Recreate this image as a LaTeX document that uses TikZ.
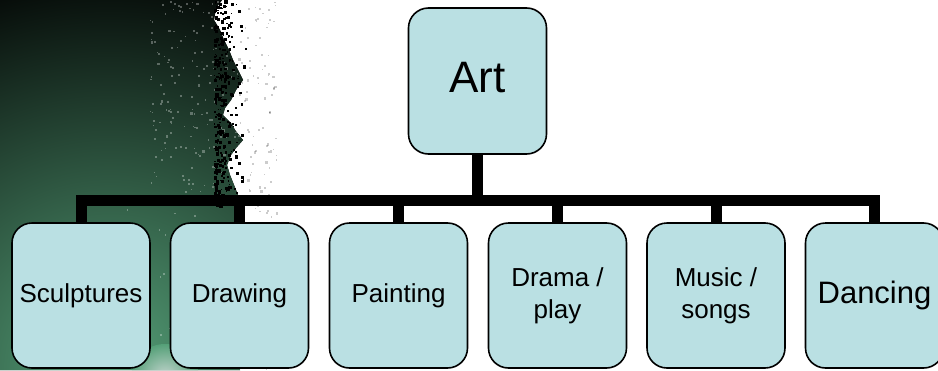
\documentclass[tikz,border=0pt]{standalone}
\usepackage{fontspec}
\setmainfont{Liberation Sans}
\definecolor{boxfill}{RGB}{186,224,227}
\definecolor{glow}{RGB}{85,160,120}
\definecolor{paleglow}{RGB}{200,215,210}
\begin{document}
\begin{tikzpicture}[x=1pt,y=-1pt,
  box/.style={draw=black, line width=1.6pt, fill=boxfill, rounded corners=20pt,
    minimum width=138pt, minimum height=145pt, inner sep=0pt, align=center,
    font=\fontsize{26}{32}\selectfont},
  conn/.style={line width=11pt, line join=miter, draw=black}]
\useasboundingbox (0,0) rectangle (938,370);
\fill[white] (0,0) rectangle (938,370);
% dark splash background
\fill[black] (0,0) -- (222,0) -- (216,8) -- (214,20) -- (220,30) -- (224,40) -- (229,50) -- (233,60) -- (238,70) -- (243,80) -- (236,90) -- (231,100) -- (225,108) -- (223,115) -- (231,123) -- (235,130) -- (243,140) -- (236,148) -- (231,155) -- (227,165) -- (230,175) -- (234,185) -- (238,195) -- (240,210) -- (238,230) -- (240,370) -- (0,370) -- cycle;
\begin{scope}
  \clip (0,0) -- (222,0) -- (216,8) -- (214,20) -- (220,30) -- (224,40) -- (229,50) -- (233,60) -- (238,70) -- (243,80) -- (236,90) -- (231,100) -- (225,108) -- (223,115) -- (231,123) -- (235,130) -- (243,140) -- (236,148) -- (231,155) -- (227,165) -- (230,175) -- (234,185) -- (238,195) -- (240,210) -- (238,230) -- (240,370) -- (0,370) -- cycle;
  \shade[inner color=glow, outer color=black] (110,370) circle (420);
  \shade[inner color=paleglow, outer color=glow] (165,378) circle (34);
  \pgfmathsetseed{11}
  \foreach \i in {1,...,180} {
    \pgfmathsetmacro{\yy}{rnd*200}
    \pgfmathsetmacro{\xx}{150+rnd*90}
    \pgfmathsetmacro{\ss}{1+rnd*1.5}
    \fill[white, opacity=0.3] (\xx,\yy) rectangle ++(\ss,\ss);
  }
  \foreach \i in {1,...,50} {
    \pgfmathsetmacro{\yy}{205+rnd*165}
    \pgfmathsetmacro{\xx}{100+rnd*140}
    \fill[white, opacity=0.3] (\xx,\yy) rectangle ++(1.5,1.5);
  }
\end{scope}
\pgfmathsetseed{5}
\foreach \i in {1,...,320} {
  \pgfmathsetmacro{\yy}{rnd*205}
  \pgfmathsetmacro{\xx}{214+32*rnd*rnd}
  \pgfmathsetmacro{\ss}{1+rnd*2.5}
  \fill[black] (\xx,\yy) rectangle ++(\ss,\ss);
}
\foreach \i in {1,...,160} {
  \pgfmathsetmacro{\yy}{rnd*370}
  \pgfmathsetmacro{\xx}{238+rnd*38}
  \pgfmathsetmacro{\ss}{1+rnd*1.5}
  \fill[black, opacity=0.2] (\xx,\yy) rectangle ++(\ss,\ss);
}
% nodes
\node[box, font=\fontsize{44}{50}\selectfont, text depth=8pt, minimum height=146pt] (art) at (477.5,81) {Art};
\node[box] (c1) at (81,295.5) {Sculptures};
\node[box] (c2) at (239.5,295.5) {Drawing};
\node[box] (c3) at (398.5,295.5) {Painting};
\node[box] (c4) at (557.5,295.5) {Drama /\\play};
\node[box] (c5) at (716,295.5) {Music /\\songs};
\node[box, font=\fontsize{31}{36}\selectfont] (c6) at (874.5,295.5) {Dancing};
\coordinate (bar) at (0,200.5);
\foreach \c in {c1,c2,c3,c4,c5,c6}
  \draw[conn] (art.south) -- (art.south |- bar) -| (\c.north);
\end{tikzpicture}
\end{document}
